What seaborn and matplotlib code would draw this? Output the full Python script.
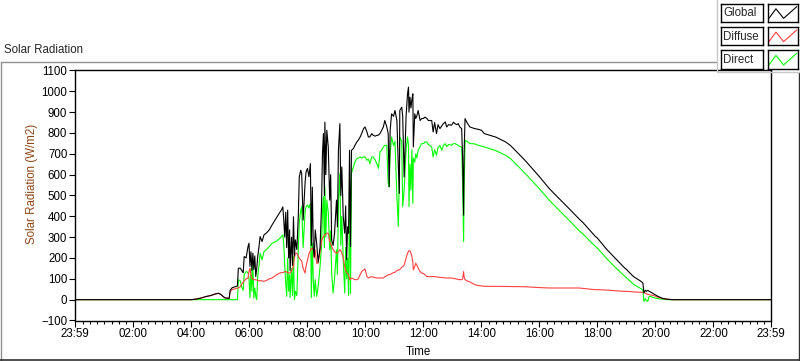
import matplotlib
matplotlib.use("Agg")
import matplotlib.pyplot as plt
from matplotlib.lines import Line2D
import seaborn as sns
import pandas as pd

# readings (W/m2), time of day HH:MM
times = [
    "00:00", "04:00", "04:10", "04:20", "04:30", "04:40", "04:50", "04:56", "05:01", "05:06",
    "05:10", "05:18", "05:20", "05:24", "05:30", "05:35", "05:37", "05:41", "05:44", "05:47",
    "05:49", "05:53", "05:57", "05:59", "06:01", "06:03", "06:05", "06:07", "06:09", "06:11",
    "06:13", "06:15", "06:17", "06:20", "06:22", "06:26", "06:30", "06:35", "06:41", "06:47",
    "06:55", "07:03", "07:06", "07:09", "07:11", "07:13", "07:15", "07:17", "07:19", "07:21",
    "07:23", "07:24", "07:27", "07:29", "07:31", "07:33", "07:35", "07:38", "07:41", "07:43",
    "07:46", "07:48", "07:51", "07:55", "07:57", "08:00", "08:03", "08:06", "08:08", "08:10",
    "08:12", "08:14", "08:16", "08:19", "08:22", "08:26", "08:29", "08:31", "08:33", "08:35",
    "08:36", "08:38", "08:40", "08:43", "08:46", "08:48", "08:50", "08:53", "08:56", "09:00",
    "09:02", "09:04", "09:07", "09:09", "09:11", "09:14", "09:17", "09:19", "09:21", "09:23",
    "09:25", "09:27", "09:28", "09:29", "09:31", "09:35", "09:38", "09:42", "09:45", "09:49",
    "09:52", "09:56", "09:59", "10:03", "10:06", "10:09", "10:13", "10:16", "10:20", "10:24",
    "10:27", "10:30", "10:34", "10:37", "10:40", "10:44", "10:47", "10:49", "10:51", "10:54",
    "10:58", "11:01", "11:05", "11:08", "11:10", "11:11", "11:15", "11:17", "11:20", "11:24",
    "11:27", "11:29", "11:30", "11:32", "11:34", "11:36", "11:38", "11:39", "11:42", "11:44",
    "11:46", "11:49", "11:53", "11:56", "12:00", "12:03", "12:07", "12:10", "12:17", "12:20",
    "12:23", "12:27", "12:30", "12:34", "12:38", "12:41", "12:45", "12:48", "12:52", "12:58",
    "13:02", "13:05", "13:09", "13:12", "13:15", "13:19", "13:21", "13:23", "13:24", "13:26",
    "13:30", "13:36", "13:46", "13:53", "14:00", "14:06", "14:30", "14:50", "15:00", "15:30",
    "16:00", "16:20", "16:30", "17:00", "17:23", "17:30", "17:55", "18:00", "18:20", "18:30",
    "18:55", "19:00", "19:07", "19:15", "19:30", "19:34", "19:36", "19:39", "19:41", "19:44",
    "19:47", "19:51", "19:56", "20:05", "20:15", "20:25", "20:35", "23:59",
]

global_wm2 = [
    0, 0, 3, 8, 15, 20, 28, 31, 25, 14,
    8, 7, 45, 57, 62, 66, 151, 151, 140, 129,
    207, 200, 255, 271, 160, 230, 140, 223, 145, 210,
    111, 150, 207, 260, 303, 279, 311, 320, 335, 360,
    390, 420, 430, 445, 380, 300, 420, 250, 430, 200,
    335, 140, 300, 165, 398, 210, 287, 240, 400, 589,
    621, 606, 382, 560, 613, 630, 590, 653, 260, 540,
    250, 205, 335, 271, 180, 250, 446, 700, 797, 500,
    852, 600, 813, 733, 478, 600, 287, 260, 319, 478,
    350, 717, 845, 500, 637, 398, 319, 450, 191, 350,
    319, 717, 502, 255, 717, 725, 740, 757, 765, 781,
    797, 821, 829, 805, 781, 781, 797, 789, 785, 789,
    790, 797, 815, 829, 860, 830, 797, 542, 813, 892,
    880, 908, 860, 637, 510, 908, 924, 880, 589, 880,
    988, 1020, 900, 972, 920, 960, 988, 733, 892, 870,
    880, 908, 860, 869, 870, 876, 870, 860, 860, 805,
    850, 797, 840, 821, 835, 845, 853, 829, 840, 837,
    852, 845, 840, 845, 829, 821, 677, 406, 700, 869,
    850, 829, 821, 818, 813, 797, 780, 757, 740, 669,
    590, 534, 510, 440, 385, 370, 305, 295, 239, 215,
    155, 145, 128, 110, 88, 80, 33, 45, 40, 45,
    40, 35, 28, 16, 6, 2, 0, 0,
]

diffuse_wm2 = [
    0, 0, 3, 8, 15, 20, 28, 30, 25, 14,
    8, 6, 40, 48, 52, 56, 56, 62, 75, 85,
    90, 100, 104, 135, 150, 120, 100, 100, 96, 96,
    95, 95, 92, 90, 92, 90, 88, 92, 100, 104,
    118, 128, 130, 130, 132, 135, 135, 132, 130, 128,
    128, 128, 140, 150, 159, 200, 223, 223, 210, 199,
    191, 185, 150, 128, 160, 191, 220, 235, 247, 245,
    240, 200, 239, 175, 175, 230, 280, 295, 303, 310,
    311, 315, 319, 319, 280, 270, 255, 240, 230, 223,
    225, 230, 240, 235, 223, 200, 159, 140, 130, 125,
    120, 100, 96, 100, 104, 100, 96, 96, 100, 120,
    135, 143, 147, 111, 104, 108, 110, 108, 106, 104,
    104, 104, 104, 104, 110, 115, 120, 120, 120, 125,
    130, 131, 140, 143, 143, 145, 155, 159, 165, 200,
    223, 231, 235, 235, 224, 207, 180, 143, 160, 175,
    167, 151, 135, 128, 125, 120, 111, 111, 111, 111,
    111, 109, 108, 107, 106, 105, 104, 104, 104, 104,
    102, 100, 98, 97, 96, 96, 100, 135, 110, 96,
    90, 85, 72, 68, 66, 64, 64, 63, 63, 62,
    58, 56, 56, 56, 56, 54, 48, 48, 46, 44,
    40, 40, 39, 37, 35, 35, 35, 30, 28, 26,
    24, 22, 20, 12, 5, 2, 0, 0,
]

direct_wm2 = [
    0, 0, 0, 0, 0, 0, 0, 0, 0, 0,
    0, 0, 0, 0, 0, 0, 96, 90, 60, 45,
    120, 135, 130, 100, 10, 150, 40, 170, 8, 56,
    16, 0, 111, 170, 223, 191, 231, 240, 255, 271,
    279, 295, 303, 311, 260, 159, 80, 16, 200, 40,
    120, 10, 150, 20, 207, 0, 40, 20, 239, 367,
    430, 446, 250, 420, 446, 454, 440, 462, 10, 271,
    96, 16, 96, 16, 60, 159, 255, 420, 494, 250,
    542, 300, 478, 420, 239, 330, 128, 32, 100, 239,
    120, 478, 606, 260, 400, 191, 32, 250, 100, 200,
    20, 478, 343, 30, 606, 637, 660, 677, 680, 685,
    680, 685, 685, 669, 675, 653, 685, 685, 670, 650,
    630, 709, 720, 733, 741, 741, 558, 542, 700, 781,
    740, 760, 494, 351, 600, 781, 760, 446, 526, 720,
    781, 740, 446, 650, 526, 720, 462, 680, 660, 700,
    680, 717, 735, 749, 749, 757, 757, 745, 733, 685,
    720, 693, 730, 740, 717, 740, 749, 735, 745, 741,
    749, 749, 745, 740, 735, 733, 558, 279, 526, 765,
    760, 749, 748, 741, 737, 733, 715, 693, 677, 607,
    532, 478, 454, 384, 329, 315, 257, 247, 195, 171,
    115, 105, 90, 73, 53, 45, -8, 5, -5, -8,
    16, 14, 10, 5, 2, 0, 0, 0,
]

x_tick_labels = ["23:59", "02:00", "04:00", "06:00", "08:00", "10:00", "12:00",
                 "14:00", "16:00", "18:00", "20:00", "22:00", "23:59"]
series_names = ["Global", "Diffuse", "Direct"]
series_colors = {"Global": "#000000", "Diffuse": "#FF4040", "Direct": "#00FF00"}

minutes = [int(t[:2]) * 60 + int(t[3:]) for t in times]
df = pd.DataFrame({"minute": minutes, "Global": global_wm2,
                   "Diffuse": diffuse_wm2, "Direct": direct_wm2})

sns.set_style("ticks")
plt.rcParams["font.family"] = ["Liberation Sans", "DejaVu Sans"]
FS = 8.3

fig = plt.figure(figsize=(8, 3.61), dpi=100)
W, H = 800.0, 361.0
ax = fig.add_axes([75 / W, 1 - 320.5 / H, 696 / W, 250 / H])

# black drawn last so it sits on top of the zero line at night
for name in ["Direct", "Diffuse", "Global"]:
    sns.lineplot(data=df, x="minute", y=name, ax=ax, color=series_colors[name],
                 linewidth=0.8, legend=False, estimator=None)

ax.set_xlim(-1, 1439)
ax.set_ylim(-100, 1100)
ax.set_yticks(range(-100, 1101, 100))
major_x = [-1] + list(range(120, 1321, 120)) + [1439]
ax.set_xticks(major_x)
ax.set_xticklabels(x_tick_labels)
ax.set_xticks([m for m in range(15, 1440, 15) if m % 120], minor=True)
ax.tick_params(axis="both", which="major", direction="out", length=4, width=0.8,
               colors="black", labelsize=FS, pad=1.5)
ax.tick_params(axis="x", which="minor", direction="out", length=2.5, width=0.8, colors="black")
for s in ax.spines.values():
    s.set_color("black")
    s.set_linewidth(1.0)

ax.set_xlabel("Time", fontsize=FS, color="black")
ax.xaxis.set_label_coords((418 - 75) / 696, (321 - 347) / 250.5)
ax.set_ylabel("Solar Radiation (W/m2)", fontsize=FS, color="#8B4513")
ax.yaxis.set_label_coords((38 - 75) / 696, (321 - 184) / 250.5)

# outer graph frame and caption
fig.text(4 / W, 1 - 50 / H, "Solar Radiation", fontsize=FS, ha="left", va="center")
fig.add_artist(Line2D([0.5 / W, 0.5 / W], [1 - 61.5 / H, 1 - 360.5 / H], color="#909090", lw=1))
fig.add_artist(Line2D([0.5 / W, 717 / W], [1 - 61.5 / H, 1 - 61.5 / H], color="#909090", lw=1))
fig.add_artist(Line2D([0, 1], [1 - 360 / H, 1 - 360 / H], color="#303030", lw=1.2))
fig.add_artist(Line2D([799.3 / W, 799.3 / W], [1 - 72 / H, 1 - 360.5 / H], color="#303030", lw=1))

# plot legend panel
fig.add_artist(Line2D([717 / W, 717 / W], [1, 1 - 72 / H], color="#C8C8C8", lw=1))
fig.add_artist(Line2D([717 / W, 1], [1 - 72 / H, 1 - 72 / H], color="#C8C8C8", lw=1))
for i, name in enumerate(series_names):
    top = 3.7 + 23.3 * i
    lab = fig.add_axes([720.7 / W, 1 - (top + 18.3) / H, 42.6 / W, 18.3 / H])
    smp = fig.add_axes([767.7 / W, 1 - (top + 18.3) / H, 30.6 / W, 18.3 / H])
    for a in (lab, smp):
        a.set_xticks([]); a.set_yticks([])
        a.set_xlim(0, 1); a.set_ylim(0, 1)
        a.set_facecolor("white")
        for s in a.spines.values():
            s.set_color("black"); s.set_linewidth(1.0)
    lab.text(0.06, 0.47, name, fontsize=FS, ha="left", va="center")
    smp.plot([0.04, 0.27, 0.52, 0.95], [0.2, 0.72, 0.2, 0.84],
             color=series_colors[name], lw=0.8)

fig.savefig("out.png", dpi=100)
